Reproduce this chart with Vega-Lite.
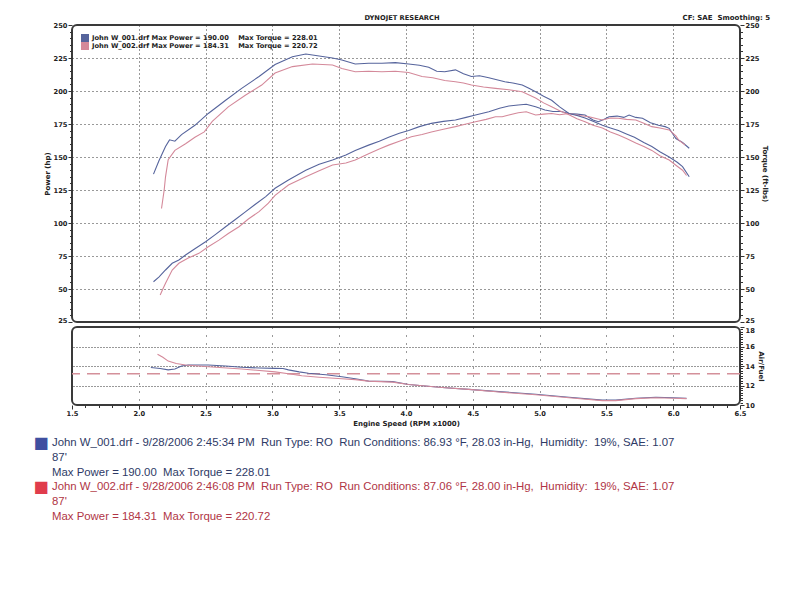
{
  "$schema": "https://vega.github.io/schema/vega-lite/v6.json",
  "background": "white",
  "padding": {"left": 33, "top": 13, "right": 0, "bottom": 0},
  "bounds": "flush",
  "spacing": 5,
  "config": {
    "font": "DejaVu Sans",
    "axis": {"labelFont": "DejaVu Sans", "titleFont": "DejaVu Sans"},
    "legend": {"labelFont": "DejaVu Sans"}
  },
  "resolve": {"scale": {"color": "independent"}, "legend": {"color": "independent"}},
  "datasets": {
    "header": [
      {"label": "DYNOJET RESEARCH", "rpm": 3.97, "value": 250},
      {"label": "CF: SAE\u00a0 Smoothing: 5", "rpm": 6.07, "value": 250}
    ],
    "power": [
      {"run":"John W_001","rpm":2.11,"value":55.5},{"run":"John W_001","rpm":2.15,"value":59},{"run":"John W_001","rpm":2.2,"value":64.4},{"run":"John W_001","rpm":2.25,"value":69.5},{"run":"John W_001","rpm":2.3,"value":72},{"run":"John W_001","rpm":2.35,"value":75.8},{"run":"John W_001","rpm":2.42,"value":80.5},{"run":"John W_001","rpm":2.5,"value":85.8},{"run":"John W_001","rpm":2.57,"value":91},{"run":"John W_001","rpm":2.65,"value":97.2},{"run":"John W_001","rpm":2.72,"value":102.5},{"run":"John W_001","rpm":2.8,"value":108.6},{"run":"John W_001","rpm":2.87,"value":114},{"run":"John W_001","rpm":2.95,"value":120},{"run":"John W_001","rpm":3.02,"value":126.3},{"run":"John W_001","rpm":3.12,"value":132.6},{"run":"John W_001","rpm":3.25,"value":140},{"run":"John W_001","rpm":3.35,"value":144.5},{"run":"John W_001","rpm":3.45,"value":147.7},{"run":"John W_001","rpm":3.55,"value":151.5},{"run":"John W_001","rpm":3.62,"value":155},{"run":"John W_001","rpm":3.72,"value":159},{"run":"John W_001","rpm":3.8,"value":162},{"run":"John W_001","rpm":3.87,"value":165},{"run":"John W_001","rpm":3.95,"value":168},{"run":"John W_001","rpm":4.02,"value":170},{"run":"John W_001","rpm":4.1,"value":173},{"run":"John W_001","rpm":4.19,"value":175.5},{"run":"John W_001","rpm":4.28,"value":177},{"run":"John W_001","rpm":4.37,"value":178},{"run":"John W_001","rpm":4.45,"value":180},{"run":"John W_001","rpm":4.52,"value":181.8},{"run":"John W_001","rpm":4.62,"value":184.3},{"run":"John W_001","rpm":4.7,"value":187},{"run":"John W_001","rpm":4.77,"value":188.6},{"run":"John W_001","rpm":4.84,"value":189.4},{"run":"John W_001","rpm":4.9,"value":190},{"run":"John W_001","rpm":4.97,"value":188},{"run":"John W_001","rpm":5.04,"value":185.6},{"run":"John W_001","rpm":5.1,"value":184.5},{"run":"John W_001","rpm":5.16,"value":184.5},{"run":"John W_001","rpm":5.22,"value":183},{"run":"John W_001","rpm":5.28,"value":182.5},{"run":"John W_001","rpm":5.34,"value":181.8},{"run":"John W_001","rpm":5.4,"value":178},{"run":"John W_001","rpm":5.44,"value":176.7},{"run":"John W_001","rpm":5.48,"value":178.5},{"run":"John W_001","rpm":5.52,"value":180.5},{"run":"John W_001","rpm":5.58,"value":181},{"run":"John W_001","rpm":5.63,"value":180},{"run":"John W_001","rpm":5.67,"value":181.8},{"run":"John W_001","rpm":5.72,"value":180},{"run":"John W_001","rpm":5.77,"value":179.3},{"run":"John W_001","rpm":5.83,"value":176},{"run":"John W_001","rpm":5.89,"value":174},{"run":"John W_001","rpm":5.94,"value":173},{"run":"John W_001","rpm":5.97,"value":171.7},{"run":"John W_001","rpm":6.0,"value":167},{"run":"John W_001","rpm":6.02,"value":164},{"run":"John W_001","rpm":6.07,"value":161},{"run":"John W_001","rpm":6.12,"value":156.6},
      {"run":"John W_002","rpm":2.16,"value":45.5},{"run":"John W_002","rpm":2.18,"value":50},{"run":"John W_002","rpm":2.2,"value":54.3},{"run":"John W_002","rpm":2.25,"value":64.4},{"run":"John W_002","rpm":2.3,"value":69.5},{"run":"John W_002","rpm":2.37,"value":73.5},{"run":"John W_002","rpm":2.45,"value":77},{"run":"John W_002","rpm":2.52,"value":82},{"run":"John W_002","rpm":2.6,"value":87},{"run":"John W_002","rpm":2.67,"value":92},{"run":"John W_002","rpm":2.75,"value":97.2},{"run":"John W_002","rpm":2.82,"value":103},{"run":"John W_002","rpm":2.9,"value":108.6},{"run":"John W_002","rpm":2.97,"value":115},{"run":"John W_002","rpm":3.02,"value":121},{"run":"John W_002","rpm":3.12,"value":128.8},{"run":"John W_002","rpm":3.25,"value":135},{"run":"John W_002","rpm":3.35,"value":139.5},{"run":"John W_002","rpm":3.45,"value":144},{"run":"John W_002","rpm":3.55,"value":145.5},{"run":"John W_002","rpm":3.62,"value":147.7},{"run":"John W_002","rpm":3.72,"value":152.5},{"run":"John W_002","rpm":3.8,"value":156},{"run":"John W_002","rpm":3.87,"value":159},{"run":"John W_002","rpm":3.95,"value":162},{"run":"John W_002","rpm":4.04,"value":165.4},{"run":"John W_002","rpm":4.12,"value":167},{"run":"John W_002","rpm":4.19,"value":169},{"run":"John W_002","rpm":4.28,"value":171},{"run":"John W_002","rpm":4.37,"value":173},{"run":"John W_002","rpm":4.45,"value":175},{"run":"John W_002","rpm":4.52,"value":176.7},{"run":"John W_002","rpm":4.6,"value":178.5},{"run":"John W_002","rpm":4.67,"value":180.5},{"run":"John W_002","rpm":4.72,"value":180.5},{"run":"John W_002","rpm":4.77,"value":181.8},{"run":"John W_002","rpm":4.84,"value":183.5},{"run":"John W_002","rpm":4.9,"value":184.3},{"run":"John W_002","rpm":4.97,"value":181.8},{"run":"John W_002","rpm":5.03,"value":182.5},{"run":"John W_002","rpm":5.09,"value":183},{"run":"John W_002","rpm":5.15,"value":182},{"run":"John W_002","rpm":5.22,"value":183},{"run":"John W_002","rpm":5.3,"value":181.5},{"run":"John W_002","rpm":5.37,"value":180.5},{"run":"John W_002","rpm":5.43,"value":179},{"run":"John W_002","rpm":5.47,"value":178},{"run":"John W_002","rpm":5.53,"value":179.5},{"run":"John W_002","rpm":5.59,"value":179.3},{"run":"John W_002","rpm":5.65,"value":178.5},{"run":"John W_002","rpm":5.72,"value":178},{"run":"John W_002","rpm":5.78,"value":175.5},{"run":"John W_002","rpm":5.84,"value":173},{"run":"John W_002","rpm":5.9,"value":172},{"run":"John W_002","rpm":5.97,"value":170.5},{"run":"John W_002","rpm":6.02,"value":166},{"run":"John W_002","rpm":6.04,"value":163},{"run":"John W_002","rpm":6.09,"value":159}
    ],
    "torque": [
      {"run":"John W_001","rpm":2.11,"value":137},{"run":"John W_001","rpm":2.15,"value":147},{"run":"John W_001","rpm":2.2,"value":158},{"run":"John W_001","rpm":2.23,"value":163},{"run":"John W_001","rpm":2.27,"value":162},{"run":"John W_001","rpm":2.32,"value":167},{"run":"John W_001","rpm":2.42,"value":174},{"run":"John W_001","rpm":2.52,"value":183},{"run":"John W_001","rpm":2.65,"value":193},{"run":"John W_001","rpm":2.77,"value":202},{"run":"John W_001","rpm":2.9,"value":211},{"run":"John W_001","rpm":3.02,"value":220},{"run":"John W_001","rpm":3.15,"value":226},{"run":"John W_001","rpm":3.25,"value":228},{"run":"John W_001","rpm":3.35,"value":226.5},{"run":"John W_001","rpm":3.45,"value":225},{"run":"John W_001","rpm":3.52,"value":223.5},{"run":"John W_001","rpm":3.62,"value":220.5},{"run":"John W_001","rpm":3.72,"value":221},{"run":"John W_001","rpm":3.82,"value":221},{"run":"John W_001","rpm":3.92,"value":221.5},{"run":"John W_001","rpm":4.02,"value":220.5},{"run":"John W_001","rpm":4.1,"value":219.5},{"run":"John W_001","rpm":4.17,"value":218},{"run":"John W_001","rpm":4.23,"value":215},{"run":"John W_001","rpm":4.29,"value":214.6},{"run":"John W_001","rpm":4.37,"value":216},{"run":"John W_001","rpm":4.43,"value":213},{"run":"John W_001","rpm":4.49,"value":211},{"run":"John W_001","rpm":4.55,"value":211.5},{"run":"John W_001","rpm":4.62,"value":210},{"run":"John W_001","rpm":4.68,"value":208.5},{"run":"John W_001","rpm":4.74,"value":207},{"run":"John W_001","rpm":4.8,"value":206},{"run":"John W_001","rpm":4.87,"value":204.5},{"run":"John W_001","rpm":4.92,"value":202},{"run":"John W_001","rpm":4.97,"value":199.5},{"run":"John W_001","rpm":5.03,"value":196},{"run":"John W_001","rpm":5.09,"value":193},{"run":"John W_001","rpm":5.15,"value":188},{"run":"John W_001","rpm":5.22,"value":183},{"run":"John W_001","rpm":5.28,"value":181.5},{"run":"John W_001","rpm":5.34,"value":179.5},{"run":"John W_001","rpm":5.4,"value":177},{"run":"John W_001","rpm":5.47,"value":174},{"run":"John W_001","rpm":5.53,"value":172},{"run":"John W_001","rpm":5.59,"value":170},{"run":"John W_001","rpm":5.65,"value":167.5},{"run":"John W_001","rpm":5.71,"value":165},{"run":"John W_001","rpm":5.78,"value":161},{"run":"John W_001","rpm":5.84,"value":158},{"run":"John W_001","rpm":5.9,"value":154},{"run":"John W_001","rpm":5.97,"value":150},{"run":"John W_001","rpm":6.03,"value":146},{"run":"John W_001","rpm":6.07,"value":142.7},{"run":"John W_001","rpm":6.12,"value":135},
      {"run":"John W_002","rpm":2.17,"value":111},{"run":"John W_002","rpm":2.19,"value":125},{"run":"John W_002","rpm":2.2,"value":135},{"run":"John W_002","rpm":2.22,"value":148},{"run":"John W_002","rpm":2.27,"value":155},{"run":"John W_002","rpm":2.35,"value":160},{"run":"John W_002","rpm":2.42,"value":165},{"run":"John W_002","rpm":2.49,"value":169},{"run":"John W_002","rpm":2.55,"value":177},{"run":"John W_002","rpm":2.67,"value":188},{"run":"John W_002","rpm":2.8,"value":197},{"run":"John W_002","rpm":2.92,"value":204.5},{"run":"John W_002","rpm":3.02,"value":213.6},{"run":"John W_002","rpm":3.15,"value":218.5},{"run":"John W_002","rpm":3.3,"value":220.5},{"run":"John W_002","rpm":3.45,"value":219.7},{"run":"John W_002","rpm":3.52,"value":217},{"run":"John W_002","rpm":3.62,"value":214.6},{"run":"John W_002","rpm":3.72,"value":215},{"run":"John W_002","rpm":3.82,"value":214.6},{"run":"John W_002","rpm":3.92,"value":215},{"run":"John W_002","rpm":4.02,"value":214},{"run":"John W_002","rpm":4.12,"value":211},{"run":"John W_002","rpm":4.2,"value":210},{"run":"John W_002","rpm":4.29,"value":208},{"run":"John W_002","rpm":4.37,"value":207},{"run":"John W_002","rpm":4.43,"value":206},{"run":"John W_002","rpm":4.49,"value":204.5},{"run":"John W_002","rpm":4.58,"value":203},{"run":"John W_002","rpm":4.67,"value":202},{"run":"John W_002","rpm":4.77,"value":201},{"run":"John W_002","rpm":4.87,"value":199.5},{"run":"John W_002","rpm":4.97,"value":194.7},{"run":"John W_002","rpm":5.03,"value":191},{"run":"John W_002","rpm":5.09,"value":188},{"run":"John W_002","rpm":5.15,"value":185},{"run":"John W_002","rpm":5.22,"value":182},{"run":"John W_002","rpm":5.28,"value":179},{"run":"John W_002","rpm":5.34,"value":176.7},{"run":"John W_002","rpm":5.4,"value":174},{"run":"John W_002","rpm":5.47,"value":172},{"run":"John W_002","rpm":5.53,"value":169},{"run":"John W_002","rpm":5.59,"value":166.7},{"run":"John W_002","rpm":5.65,"value":164},{"run":"John W_002","rpm":5.72,"value":160.6},{"run":"John W_002","rpm":5.78,"value":158},{"run":"John W_002","rpm":5.84,"value":155},{"run":"John W_002","rpm":5.9,"value":151},{"run":"John W_002","rpm":5.97,"value":147.7},{"run":"John W_002","rpm":6.03,"value":143},{"run":"John W_002","rpm":6.07,"value":140},{"run":"John W_002","rpm":6.1,"value":136}
    ],
    "afr": [
      {"run":"John W_001","rpm":2.09,"value":13.84},{"run":"John W_001","rpm":2.16,"value":13.75},{"run":"John W_001","rpm":2.22,"value":13.6},{"run":"John W_001","rpm":2.27,"value":13.7},{"run":"John W_001","rpm":2.32,"value":14.0},{"run":"John W_001","rpm":2.37,"value":14.1},{"run":"John W_001","rpm":2.52,"value":14.1},{"run":"John W_001","rpm":2.65,"value":14.0},{"run":"John W_001","rpm":2.77,"value":13.87},{"run":"John W_001","rpm":2.9,"value":13.8},{"run":"John W_001","rpm":3.02,"value":13.76},{"run":"John W_001","rpm":3.08,"value":13.75},{"run":"John W_001","rpm":3.12,"value":13.6},{"run":"John W_001","rpm":3.2,"value":13.4},{"run":"John W_001","rpm":3.27,"value":13.25},{"run":"John W_001","rpm":3.4,"value":13.1},{"run":"John W_001","rpm":3.52,"value":12.9},{"run":"John W_001","rpm":3.62,"value":12.7},{"run":"John W_001","rpm":3.72,"value":12.45},{"run":"John W_001","rpm":3.9,"value":12.4},{"run":"John W_001","rpm":4.02,"value":12.1},{"run":"John W_001","rpm":4.27,"value":11.8},{"run":"John W_001","rpm":4.47,"value":11.6},{"run":"John W_001","rpm":4.72,"value":11.35},{"run":"John W_001","rpm":4.97,"value":11.1},{"run":"John W_001","rpm":5.22,"value":10.8},{"run":"John W_001","rpm":5.47,"value":10.5},{"run":"John W_001","rpm":5.57,"value":10.5},{"run":"John W_001","rpm":5.72,"value":10.7},{"run":"John W_001","rpm":5.87,"value":10.8},{"run":"John W_001","rpm":6.0,"value":10.75},{"run":"John W_001","rpm":6.1,"value":10.7},
      {"run":"John W_002","rpm":2.14,"value":15.2},{"run":"John W_002","rpm":2.18,"value":14.9},{"run":"John W_002","rpm":2.22,"value":14.5},{"run":"John W_002","rpm":2.28,"value":14.25},{"run":"John W_002","rpm":2.35,"value":14.1},{"run":"John W_002","rpm":2.52,"value":13.93},{"run":"John W_002","rpm":2.77,"value":13.7},{"run":"John W_002","rpm":3.02,"value":13.4},{"run":"John W_002","rpm":3.12,"value":13.2},{"run":"John W_002","rpm":3.22,"value":13.0},{"run":"John W_002","rpm":3.35,"value":12.85},{"run":"John W_002","rpm":3.52,"value":12.7},{"run":"John W_002","rpm":3.62,"value":12.6},{"run":"John W_002","rpm":3.72,"value":12.45},{"run":"John W_002","rpm":3.9,"value":12.35},{"run":"John W_002","rpm":4.02,"value":12.1},{"run":"John W_002","rpm":4.27,"value":11.8},{"run":"John W_002","rpm":4.47,"value":11.6},{"run":"John W_002","rpm":4.72,"value":11.3},{"run":"John W_002","rpm":4.97,"value":11.05},{"run":"John W_002","rpm":5.22,"value":10.75},{"run":"John W_002","rpm":5.47,"value":10.45},{"run":"John W_002","rpm":5.57,"value":10.45},{"run":"John W_002","rpm":5.72,"value":10.65},{"run":"John W_002","rpm":5.87,"value":10.75},{"run":"John W_002","rpm":6.0,"value":10.7},{"run":"John W_002","rpm":6.1,"value":10.65}
    ],
    "target": [{"target": 13.2}],
    "notes": [
      {"run":"John W_001","row":1,"text":"John W_001.drf - 9/28/2006 2:45:34 PM\u00a0 Run Type: RO\u00a0 Run Conditions: 86.93 °F, 28.03 in-Hg,\u00a0 Humidity:\u00a0 19%, SAE: 1.07"},
      {"run":"John W_001","row":2,"text":"87'"},
      {"run":"John W_001","row":3,"text":"Max Power = 190.00\u00a0 Max Torque = 228.01"},
      {"run":"John W_002","row":4,"text":"John W_002.drf - 9/28/2006 2:46:08 PM\u00a0 Run Type: RO\u00a0 Run Conditions: 87.06 °F, 28.00 in-Hg,\u00a0 Humidity:\u00a0 19%, SAE: 1.07"},
      {"run":"John W_002","row":5,"text":"87'"},
      {"run":"John W_002","row":6,"text":"Max Power = 184.31\u00a0 Max Torque = 220.72"}
    ]
  },
  "vconcat": [
    {
      "width": 668,
      "height": 297,
      "view": {"stroke": "#3a3a3a", "strokeWidth": 2, "cornerRadius": 5},
      "layer": [
        {
          "data": {"name": "power"},
          "mark": {"type": "line", "strokeWidth": 1.1},
          "encoding": {
            "x": {"field": "rpm", "type": "quantitative", "scale": {"domain": [1.5, 6.5], "nice": false, "zero": false},
              "axis": {"title": null, "labels": false, "ticks": false, "domain": false, "grid": true, "values": [2, 2.5, 3, 3.5, 4, 4.5, 5, 5.5, 6], "gridDash": [1, 3], "gridColor": "#333", "gridWidth": 1}},
            "y": {"field": "value", "type": "quantitative", "scale": {"domain": [25, 250], "nice": false, "zero": false},
              "axis": {
                "orient": "left", "title": "Power (hp)",
                "values": [25,30,35,40,45,50,55,60,65,70,75,80,85,90,95,100,105,110,115,120,125,130,135,140,145,150,155,160,165,170,175,180,185,190,195,200,205,210,215,220,225,230,235,240,245,250],
                "labelExpr": "datum.value % 25 === 0 ? datum.label : ''",
                "labelOverlap": false, "labelBound": false,
                "labelBaseline": {"condition": {"test": "datum.value === 25", "value": "alphabetic"}, "value": "middle"},
                "labelFontSize": 6.7, "labelFontWeight": "bold", "labelColor": "#222", "labelPadding": 1,
                "tickSize": {"condition": {"test": "datum.value % 25 === 0", "value": 4}, "value": 2.5},
                "tickColor": "#333", "domain": false,
                "grid": true, "gridDash": [1, 3], "gridColor": "#333",
                "gridOpacity": {"condition": {"test": "datum.value % 25 === 0 && datum.value > 25 && datum.value < 250", "value": 1}, "value": 0},
                "titleFontSize": 7, "titleFontWeight": "bold", "titleColor": "#222", "titlePadding": 3
              }},
            "color": {"field": "run", "type": "nominal", "scale": {"domain": ["John W_001", "John W_002"], "range": ["#56649c", "#d4899a"]},
              "legend": {
                "title": null, "orient": "top-left", "offset": 9, "padding": 0,
                "symbolType": "square", "symbolSize": 16, "symbolStrokeWidth": 4, "clipHeight": 8, "labelOffset": 3,
                "labelFontSize": 6.7, "labelFontWeight": "bold", "labelColor": "#222", "labelLimit": 500, "rowPadding": 0,
                "labelExpr": "datum.value === 'John W_001' ? 'John W_001.drf Max Power = 190.00\u00a0\u00a0\u00a0\u00a0Max Torque = 228.01' : 'John W_002.drf Max Power = 184.31\u00a0\u00a0\u00a0\u00a0Max Torque = 220.72'"
              }}
          }
        },
        {
          "data": {"name": "torque"},
          "mark": {"type": "line", "strokeWidth": 1.1},
          "encoding": {
            "x": {"field": "rpm", "type": "quantitative"},
            "y": {"field": "value", "type": "quantitative",
              "axis": {
                "orient": "right", "title": "Torque (ft-lbs)",
                "values": [25,30,35,40,45,50,55,60,65,70,75,80,85,90,95,100,105,110,115,120,125,130,135,140,145,150,155,160,165,170,175,180,185,190,195,200,205,210,215,220,225,230,235,240,245,250],
                "labelExpr": "datum.value % 25 === 0 ? datum.label : ''",
                "labelOverlap": false, "labelBound": false,
                "labelBaseline": {"condition": {"test": "datum.value === 25", "value": "alphabetic"}, "value": "middle"},
                "labelFontSize": 6.7, "labelFontWeight": "bold", "labelColor": "#222", "labelPadding": 1,
                "tickSize": {"condition": {"test": "datum.value % 25 === 0", "value": 4}, "value": 2.5},
                "tickColor": "#333", "domain": false, "grid": false,
                "titleFontSize": 7, "titleFontWeight": "bold", "titleColor": "#222", "titlePadding": 3
              }},
            "color": {"field": "run", "type": "nominal",
              "legend": {
                "title": null, "orient": "top-left", "offset": 9, "padding": 0,
                "symbolType": "square", "symbolSize": 16, "symbolStrokeWidth": 4, "clipHeight": 8, "labelOffset": 3,
                "labelFontSize": 6.7, "labelFontWeight": "bold", "labelColor": "#222", "labelLimit": 500, "rowPadding": 0,
                "labelExpr": "datum.value === 'John W_001' ? 'John W_001.drf Max Power = 190.00\u00a0\u00a0\u00a0\u00a0Max Torque = 228.01' : 'John W_002.drf Max Power = 184.31\u00a0\u00a0\u00a0\u00a0Max Torque = 220.72'"
              }}
          }
        },
        {
          "data": {"name": "header"},
          "transform": [{"filter": "datum.label === 'DYNOJET RESEARCH'"}],
          "mark": {"type": "text", "align": "center", "baseline": "bottom", "dy": -4, "fontSize": 6.7, "fontWeight": "bold", "color": "#222"},
          "encoding": {
            "x": {"field": "rpm", "type": "quantitative"},
            "y": {"field": "value", "type": "quantitative", "axis": null},
            "text": {"field": "label"}
          }
        },
        {
          "data": {"name": "header"},
          "transform": [{"filter": "datum.label !== 'DYNOJET RESEARCH'"}],
          "mark": {"type": "text", "align": "left", "baseline": "bottom", "dy": -4, "fontSize": 7, "fontWeight": "bold", "color": "#222"},
          "encoding": {
            "x": {"field": "rpm", "type": "quantitative"},
            "y": {"field": "value", "type": "quantitative", "axis": null},
            "text": {"field": "label"}
          }
        }
      ],
      "resolve": {"axis": {"y": "independent"}}
    },
    {
      "width": 668,
      "height": 78,
      "view": {"stroke": "#3a3a3a", "strokeWidth": 2, "cornerRadius": 5},
      "layer": [
        {
          "data": {"name": "target"},
          "mark": {"type": "rule", "color": "#d4909a", "strokeDash": [13, 7], "strokeWidth": 1.5},
          "encoding": {
            "y": {"field": "target", "type": "quantitative", "scale": {"domain": [10, 18], "nice": false, "zero": false},
              "axis": {
                "orient": "right", "title": "Air/Fuel",
                "values": [10,10.25,10.5,10.75,11,11.25,11.5,11.75,12,12.25,12.5,12.75,13,13.25,13.5,13.75,14,14.25,14.5,14.75,15,15.25,15.5,15.75,16,16.25,16.5,16.75,17,17.25,17.5,17.75,18],
                "labelExpr": "abs(datum.value / 2 - round(datum.value / 2)) < 0.01 ? format(datum.value, 'd') : ''",
                "labelOverlap": false, "labelBound": false,
                "labelBaseline": {"condition": {"test": "datum.value === 18", "value": "top"}, "value": "middle"},
                "labelFontSize": 6.7, "labelFontWeight": "bold", "labelColor": "#222", "labelPadding": 1,
                "tickSize": {"condition": {"test": "abs(datum.value / 2 - round(datum.value / 2)) < 0.01", "value": 4}, "value": 2.5},
                "tickColor": "#333", "domain": false,
                "grid": true, "gridDash": [1, 2], "gridColor": "#333",
                "gridOpacity": {"condition": {"test": "abs(datum.value / 2 - round(datum.value / 2)) < 0.01 && datum.value > 11 && datum.value < 17", "value": 1}, "value": 0},
                "titleFontSize": 7, "titleFontWeight": "bold", "titleColor": "#222", "titlePadding": 3
              }}
          }
        },
        {
          "data": {"name": "afr"},
          "mark": {"type": "line", "strokeWidth": 1.1},
          "encoding": {
            "x": {"field": "rpm", "type": "quantitative", "scale": {"domain": [1.5, 6.5], "nice": false, "zero": false},
              "axis": {
                "title": "Engine Speed (RPM x1000)",
                "values": [1.5,1.6,1.7,1.8,1.9,2,2.1,2.2,2.3,2.4,2.5,2.6,2.7,2.8,2.9,3,3.1,3.2,3.3,3.4,3.5,3.6,3.7,3.8,3.9,4,4.1,4.2,4.3,4.4,4.5,4.6,4.7,4.8,4.9,5,5.1,5.2,5.3,5.4,5.5,5.6,5.7,5.8,5.9,6,6.1,6.2,6.3,6.4,6.5],
                "labelExpr": "abs(datum.value * 2 - round(datum.value * 2)) < 0.001 ? format(datum.value, '.1f') : ''",
                "labelOverlap": false, "labelBound": false, "labelFlush": false,
                "labelFontSize": 6.7, "labelFontWeight": "bold", "labelColor": "#222", "labelPadding": 1,
                "tickSize": {"condition": {"test": "abs(datum.value * 2 - round(datum.value * 2)) < 0.001", "value": 4}, "value": 2.5},
                "tickColor": "#333", "domain": false,
                "grid": true, "gridDash": [1, 7], "gridColor": "#333",
                "gridOpacity": {"condition": {"test": "abs(datum.value * 2 - round(datum.value * 2)) < 0.001 && datum.value > 1.6 && datum.value < 6.4", "value": 1}, "value": 0},
                "titleFontSize": 7, "titleFontWeight": "bold", "titleColor": "#222", "titlePadding": 3
              }},
            "y": {"field": "value", "type": "quantitative",
              "axis": {
                "orient": "right", "title": "Air/Fuel",
                "values": [10,10.25,10.5,10.75,11,11.25,11.5,11.75,12,12.25,12.5,12.75,13,13.25,13.5,13.75,14,14.25,14.5,14.75,15,15.25,15.5,15.75,16,16.25,16.5,16.75,17,17.25,17.5,17.75,18],
                "labelExpr": "abs(datum.value / 2 - round(datum.value / 2)) < 0.01 ? format(datum.value, 'd') : ''",
                "labelOverlap": false, "labelBound": false,
                "labelBaseline": {"condition": {"test": "datum.value === 18", "value": "top"}, "value": "middle"},
                "labelFontSize": 6.7, "labelFontWeight": "bold", "labelColor": "#222", "labelPadding": 1,
                "tickSize": {"condition": {"test": "abs(datum.value / 2 - round(datum.value / 2)) < 0.01", "value": 4}, "value": 2.5},
                "tickColor": "#333", "domain": false,
                "grid": true, "gridDash": [1, 2], "gridColor": "#333",
                "gridOpacity": {"condition": {"test": "abs(datum.value / 2 - round(datum.value / 2)) < 0.01 && datum.value > 11 && datum.value < 17", "value": 1}, "value": 0},
                "titleFontSize": 7, "titleFontWeight": "bold", "titleColor": "#222", "titlePadding": 3
              }},
            "color": {"field": "run", "type": "nominal", "scale": {"domain": ["John W_001", "John W_002"], "range": ["#56649c", "#d4899a"]}, "legend": null}
          }
        }
      ]
    },
    {
      "width": 668,
      "height": 115,
      "view": {"stroke": null},
      "data": {"name": "notes"},
      "layer": [
        {
          "mark": {"type": "text", "align": "left", "baseline": "middle", "dx": -20, "font": "Liberation Sans", "fontSize": 11.4},
          "encoding": {
            "x": {"datum": 0, "type": "quantitative", "scale": {"domain": [0, 1]}, "axis": null},
            "y": {"field": "row", "type": "quantitative", "scale": {"domain": [-1.23, 6.54], "reverse": true, "nice": false, "zero": false}, "axis": null},
            "text": {"field": "text"},
            "color": {"field": "run", "type": "nominal", "scale": {"domain": ["John W_001", "John W_002"], "range": ["#2e3a66", "#b03545"]}, "legend": null}
          }
        },
        {
          "transform": [{"filter": "datum.row === 1 || datum.row === 4"}],
          "mark": {"type": "text", "align": "center", "baseline": "middle", "dx": -31, "font": "DejaVu Sans", "fontSize": 16},
          "encoding": {
            "x": {"datum": 0, "type": "quantitative", "scale": {"domain": [0, 1]}, "axis": null},
            "y": {"field": "row", "type": "quantitative", "scale": {"domain": [-1.23, 6.54], "reverse": true, "nice": false, "zero": false}, "axis": null},
            "text": {"value": "■"},
            "color": {"field": "run", "type": "nominal", "scale": {"domain": ["John W_001", "John W_002"], "range": ["#3f4fa0", "#e03c4c"]}, "legend": null}
          }
        }
      ],
      "resolve": {"scale": {"color": "independent"}}
    }
  ]
}
